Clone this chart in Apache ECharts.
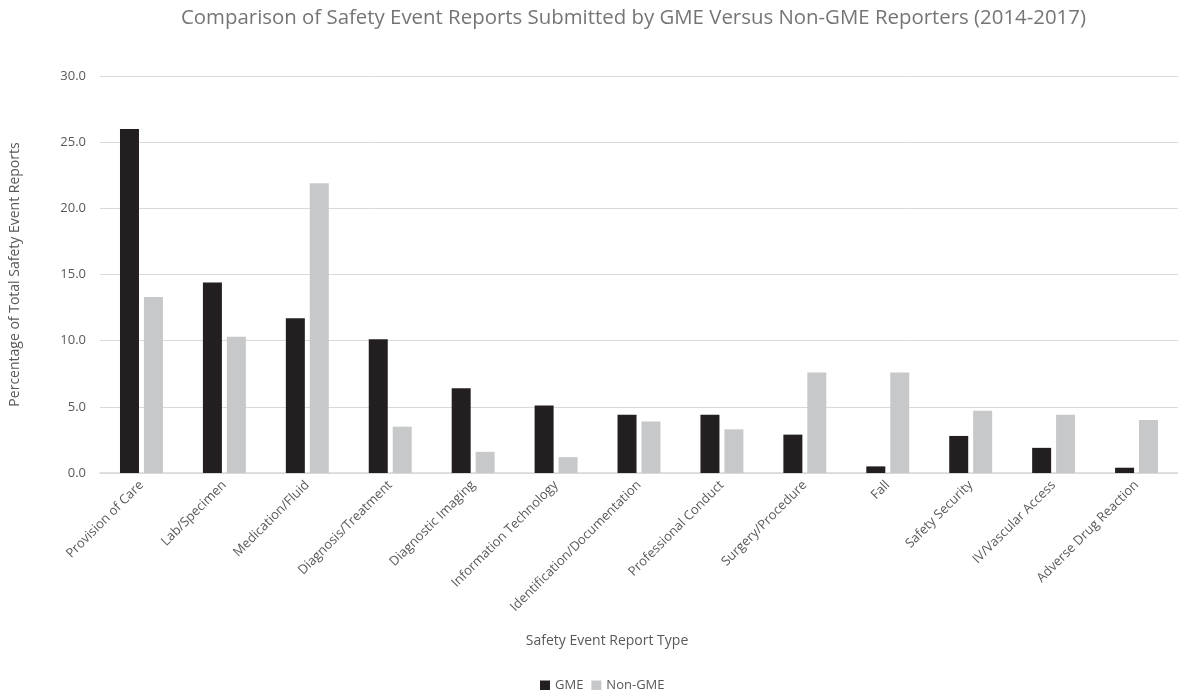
<!DOCTYPE html>
<html>
<head>
<meta charset="utf-8">
<script src="https://cdn.jsdelivr.net/npm/echarts@6/dist/echarts.min.js"></script>
<style>
html,body{margin:0;padding:0;background:#fff;}
#chart{width:1178px;height:690px;}
</style>
</head>
<body>
<div id="chart"></div>
<script>
const categories = ["Provision of Care","Lab/Specimen","Medication/Fluid","Diagnosis/Treatment","Diagnostic Imaging","Information Technology","Identification/Documentation","Professional Conduct","Surgery/Procedure","Fall","Safety Security","IV/Vascular Access","Adverse Drug Reaction"];
const gmeValues = [26.0,14.4,11.7,10.1,6.4,5.1,4.4,4.4,2.9,0.5,2.8,1.9,0.4];
const nonGmeValues = [13.3,10.3,21.9,3.5,1.6,1.2,3.9,3.3,7.6,7.6,4.7,4.4,4.0];
const yTicks = [0,5,10,15,20,25,30];

const font = "'Open Sans', sans-serif";
const chart = echarts.init(document.getElementById('chart'), null, {renderer:'canvas'});
chart.setOption({
  animation:false,
  backgroundColor:'#ffffff',
  textStyle:{fontFamily:font},
  title:{
    text:'Comparison of Safety Event Reports Submitted by GME Versus Non-GME Reporters (2014-2017)',
    left:176, top:3,
    textStyle:{fontFamily:font,fontSize:20.4,fontWeight:'normal',color:'#757575'}
  },
  legend:{
    top:674, left:535,
    itemWidth:10, itemHeight:10, itemGap:8,
    icon:'rect',
    textStyle:{fontFamily:font,fontSize:13,color:'#595959'},
    data:['GME','Non-GME']
  },
  grid:{left:100, top:76, width:1087, height:397, containLabel:false},
  xAxis:{
    type:'category',
    data:categories,
    name:'Safety Event Report Type',
    nameLocation:'middle',
    nameGap:161,
    nameTextStyle:{fontFamily:font,fontSize:14,color:'#595959',padding:[0,64,0,0]},
    axisLine:{show:true,lineStyle:{color:'#d9d9d9',width:1.5}},
    axisTick:{show:false},
    axisLabel:{rotate:45,interval:0,margin:10,fontFamily:font,fontSize:13,color:'#595959'}
  },
  yAxis:{
    type:'value',
    min:0, max:30, interval:5,
    name:'Percentage of Total Safety Event Reports',
    nameLocation:'middle',
    nameGap:78,
    nameTextStyle:{fontFamily:font,fontSize:14,color:'#595959'},
    axisLine:{show:false},
    axisTick:{show:false},
    splitLine:{lineStyle:{color:'#d9d9d9',width:1}},
    axisLabel:{margin:14,fontFamily:font,fontSize:13,color:'#595959',
      formatter:function(v){return yTicks.indexOf(v)>=0 ? v.toFixed(1) : '';}}
  },
  series:[
    {name:'GME',type:'bar',data:gmeValues,barWidth:19,barGap:'26%',
     itemStyle:{color:'#231f20'}},
    {name:'Non-GME',type:'bar',data:nonGmeValues,barWidth:19,
     itemStyle:{color:'#c7c8ca'}}
  ]
});
</script>
</body>
</html>
